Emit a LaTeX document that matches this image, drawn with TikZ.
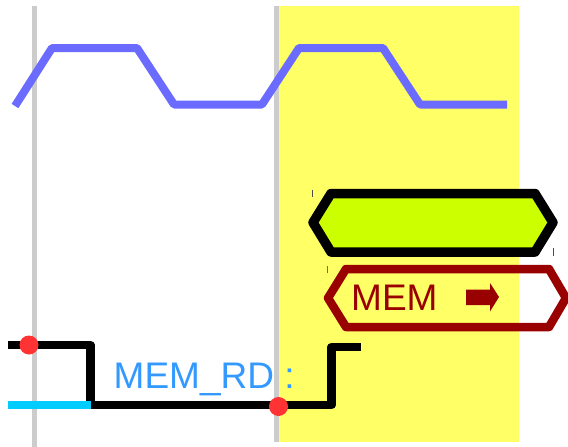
\documentclass[tikz,border=0pt]{standalone}
\usepackage{fontspec}
\setmainfont{Liberation Sans}
\definecolor{wave}{HTML}{6B6BFF}
\definecolor{paleyellow}{HTML}{FFFF66}
\definecolor{gridgrey}{HTML}{CCCCCC}
\definecolor{lime}{HTML}{CCFF00}
\definecolor{darkred}{HTML}{990000}
\definecolor{sigcyan}{HTML}{00CCFF}
\definecolor{txtblue}{HTML}{3399FF}
\definecolor{dotred}{HTML}{FF3333}
\tikzset{
  gridline/.style={draw=gridgrey,line width=4.4pt},
  clockwave/.style={draw=wave,line width=8pt,line join=round},
  sigline/.style={draw=black,line width=8.5pt,line join=round},
  hexblack/.style={draw=black,fill=lime,line width=9.5pt,line join=round},
  hexred/.style={draw=darkred,line width=8.5pt,line join=round},
  dotmark/.style={circle,fill=dotred,inner sep=0pt,minimum size=19pt},
  bigtext/.style={inner sep=0pt,anchor=base west,font=\fontsize{37}{37}\selectfont},
  tick/.style={draw=black!70,line width=0.7pt}
}
\begin{document}
\begin{tikzpicture}[x=1pt,y=-1pt]
\useasboundingbox (0,0) rectangle (568,447);
\fill[paleyellow] (278,6) rectangle (519,442);
\draw[gridline] (34.5,6) -- (34.5,447);
\draw[gridline] (276.5,6) -- (276.5,442);
\draw[clockwave] (15,106) -- (52,48) -- (137,48) -- (174,104.5) -- (262,104.5) -- (299,48) -- (383,48) -- (420,104.5) -- (507,104.5);
\draw[hexblack] (313,222.5) -- (331,193.5) -- (535,193.5) -- (553,222.5) -- (535,252) -- (331,252) -- cycle;
\draw[hexred] (328,298) -- (346,269) -- (549,269) -- (566,298) -- (549,327) -- (346,327) -- cycle;
\node[bigtext,text=darkred] (memlabel) at (351,310) {MEM};
\fill[darkred] (466,289.5) -- (490,289.5) -- (490,283) -- (499,297) -- (490,311.5) -- (490,305) -- (466,305) -- cycle;
\draw[tick] (312.5,190) -- (312.5,197);
\draw[tick] (553.5,248) -- (553.5,256);
\draw[tick,draw=darkred!70] (327,266) -- (327,273);
\draw[sigline] (8,345) -- (90.5,345) -- (90.5,405) -- (331.5,405) -- (331.5,347) -- (361,347);
\draw[sigcyan,line width=7.5pt] (8,405) -- (91,405);
\node[bigtext,text=txtblue] (memrd) at (113.5,388) {MEM\_RD :};
\node[dotmark] (dotA) at (29,345) {};
\node[dotmark] (dotB) at (278.5,406.5) {};
\end{tikzpicture}
\end{document}
